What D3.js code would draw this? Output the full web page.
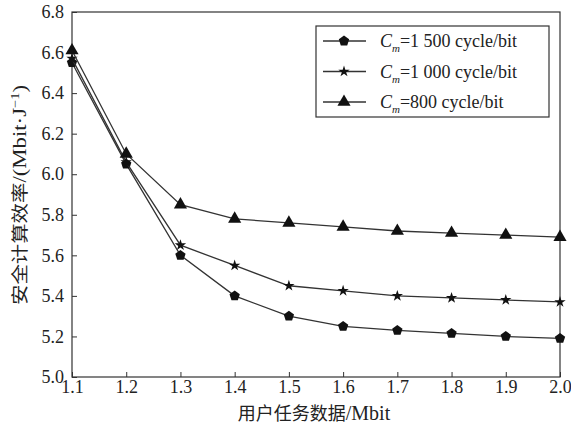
<!DOCTYPE html>
<html>
<head>
<meta charset="utf-8">
<script src="https://cdn.jsdelivr.net/npm/d3@7"></script>
<style>
  body { margin: 0; background: #fff; }
  svg text { font-family: "Liberation Serif", "DejaVu Serif", serif; fill: #222; }
  .cjk { font-family: "Noto Sans CJK SC", sans-serif; }
</style>
</head>
<body>
<div class="chart"></div>
<script>
(() => {
  const xData = [1.1, 1.2, 1.3, 1.4, 1.5, 1.6, 1.7, 1.8, 1.9, 2.0];
  const cm1500 = [6.55, 6.05, 5.60, 5.40, 5.30, 5.25, 5.23, 5.215, 5.20, 5.19];
  const cm1000 = [6.57, 6.06, 5.65, 5.55, 5.45, 5.425, 5.40, 5.39, 5.38, 5.37];
  const cm800 = [6.61, 6.10, 5.85, 5.78, 5.76, 5.74, 5.72, 5.71, 5.70, 5.69];
  const seriesNames = ["1 500", "1 000", "800"];
  const xTicks = [1.1, 1.2, 1.3, 1.4, 1.5, 1.6, 1.7, 1.8, 1.9, 2.0];
  const yTicks = [5.0, 5.2, 5.4, 5.6, 5.8, 6.0, 6.2, 6.4, 6.6, 6.8];

  const width = 571, height = 425;
  const margin = { top: 12, right: 11, bottom: 48, left: 72 };
  const innerW = width - margin.left - margin.right;
  const innerH = height - margin.top - margin.bottom;

  // pentagon symbol (d3 has none)
  const symbolPentagon = {
    draw(ctx, size) {
      const r = Math.sqrt(size / 2.378);
      for (let i = 0; i < 5; i++) {
        const a = -Math.PI / 2 + i * 2 * Math.PI / 5;
        const px = r * Math.cos(a), py = r * Math.sin(a);
        i === 0 ? ctx.moveTo(px, py) : ctx.lineTo(px, py);
      }
      ctx.closePath();
    }
  };

  const series = [
    { name: seriesNames[0], values: cm1500, symbol: symbolPentagon, size: 70 },
    { name: seriesNames[1], values: cm1000, symbol: d3.symbolStar, size: 40 },
    { name: seriesNames[2], values: cm800, symbol: d3.symbolTriangle, size: 75 },
  ];

  const svg = d3.select(".chart").append("svg")
    .attr("width", width).attr("height", height);
  const g = svg.append("g").attr("transform", `translate(${margin.left},${margin.top})`);

  const x = d3.scaleLinear().domain([1.1, 2.0]).range([0, innerW]);
  const y = d3.scaleLinear().domain([5.0, 6.8]).range([innerH, 0]);

  const xAxis = g.append("g").attr("transform", `translate(0,${innerH})`)
    .call(d3.axisBottom(x).tickValues(xTicks).tickFormat(d3.format(".1f")).tickSize(-5).tickPadding(3));
  const yAxis = g.append("g")
    .call(d3.axisLeft(y).tickValues(yTicks).tickFormat(d3.format(".1f")).tickSize(-5).tickPadding(8));
  [xAxis, yAxis].forEach(a => {
    a.selectAll("text").style("font-size", "18px").attr("fill", "#222");
    a.selectAll("line, path").attr("stroke", "#333");
    a.select(".domain").remove();
  });

  g.append("rect").attr("width", innerW).attr("height", innerH)
    .attr("fill", "none").attr("stroke", "#333").attr("stroke-width", 1.2);

  const line = d3.line().x((d, i) => x(xData[i])).y(d => y(d));

  series.forEach(s => {
    g.append("path").datum(s.values).attr("d", line)
      .attr("fill", "none").attr("stroke", "#333").attr("stroke-width", 1.3);
    g.selectAll(null).data(s.values).enter().append("path")
      .attr("transform", (d, i) => `translate(${x(xData[i])},${y(d)})`)
      .attr("d", d3.symbol().type(s.symbol).size(s.size))
      .attr("fill", "#111");
  });

  // legend
  const leg = svg.append("g").attr("transform", "translate(316,26)");
  leg.append("rect").attr("width", 233).attr("height", 91)
    .attr("fill", "#fff").attr("stroke", "#333").attr("stroke-width", 1.2);
  series.forEach((s, i) => {
    const ly = 15 + i * 30.5;
    leg.append("line").attr("x1", 7).attr("x2", 50).attr("y1", ly).attr("y2", ly)
      .attr("stroke", "#333").attr("stroke-width", 1.3);
    leg.append("path").attr("transform", `translate(28,${ly})`)
      .attr("d", d3.symbol().type(s.symbol).size(s.size)).attr("fill", "#111");
    const t = leg.append("text").attr("x", 64).attr("y", ly + 6).style("font-size", "18px");
    t.append("tspan").attr("font-style", "italic").text("C");
    t.append("tspan").attr("font-style", "italic").attr("dy", 5).style("font-size", "11px").text("m");
    t.append("tspan").attr("dy", -5).text(`=${s.name} cycle/bit`);
  });

  // axis titles
  const xt = svg.append("text").attr("x", 314).attr("y", 420)
    .attr("text-anchor", "middle").style("font-size", "20px");
  xt.append("tspan").attr("class", "cjk").style("font-size", "18px").text("用户任务数据");
  xt.append("tspan").text("/Mbit");

  const yt = svg.append("text")
    .attr("transform", `translate(26,195) rotate(-90) scale(1.2,1)`)
    .attr("text-anchor", "middle").style("font-size", "19px");
  yt.append("tspan").attr("class", "cjk").style("font-size", "17px").text("安全计算效率");
  yt.append("tspan").text("/(Mbit·J");
  yt.append("tspan").attr("dy", -7).style("font-size", "12px").text("−1");
  yt.append("tspan").attr("dy", 7).text(")");
})();
</script>
</body>
</html>
